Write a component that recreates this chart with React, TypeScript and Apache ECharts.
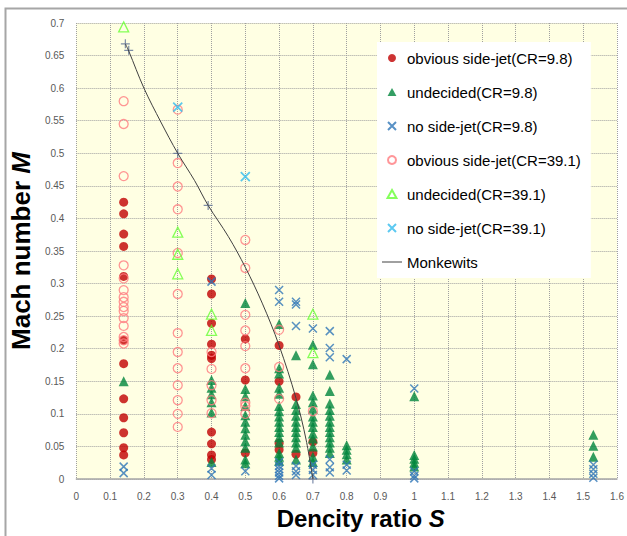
import React, { useEffect, useRef } from "react";
import * as echarts from "echarts";

// Density ratio S columns with Mach number M values, per series
const obvious98: [number, number[]][] = [
  [0.14, [0.425, 0.407, 0.376, 0.357, 0.311, 0.213, 0.177, 0.123, 0.094, 0.071, 0.048, 0.037]],
  [0.4, [0.307, 0.284, 0.239, 0.207, 0.19, 0.185, 0.072, 0.054, 0.037, 0.03]],
  [0.5, [0.215, 0.152, 0.04]],
  [0.6, [0.205, 0.15, 0.055, 0.045]],
  [0.65, [0.126, 0.038]],
  [0.7, [0.057, 0.04]],
];

const undecided98: [number, number[]][] = [
  [0.14, [0.15]],
  [0.4, [0.152, 0.14, 0.13, 0.118, 0.102, 0.026]],
  [0.5, [0.27, 0.138, 0.127, 0.112, 0.098, 0.088, 0.078, 0.068, 0.058, 0.048, 0.03, 0.024]],
  [0.6, [0.238, 0.17, 0.162, 0.14, 0.131, 0.112, 0.104, 0.096, 0.088, 0.08, 0.072, 0.064, 0.056, 0.04, 0.034, 0.028]],
  [0.65, [0.19, 0.115, 0.106, 0.097, 0.088, 0.08, 0.072, 0.064, 0.056, 0.048, 0.03]],
  [0.7, [0.206, 0.176, 0.128, 0.118, 0.108, 0.096, 0.088, 0.08, 0.07, 0.062, 0.05, 0.034, 0.026]],
  [0.75, [0.16, 0.135, 0.116, 0.106, 0.097, 0.088, 0.08, 0.072, 0.064, 0.056, 0.048, 0.04]],
  [0.8, [0.052, 0.045, 0.038, 0.03]],
  [1.0, [0.127, 0.037, 0.031, 0.025, 0.019]],
  [1.53, [0.068, 0.051, 0.034]],
];

const noJet98: [number, number[]][] = [
  [0.14, [0.019, 0.009]],
  [0.4, [0.303, 0.016, 0.006]],
  [0.5, [0.012]],
  [0.6, [0.29, 0.272, 0.026, 0.02, 0.015, 0.01, 0.005, 0.001]],
  [0.65, [0.272, 0.268, 0.235, 0.02, 0.012, 0.006]],
  [0.7, [0.231, 0.022, 0.014, 0.006]],
  [0.75, [0.227, 0.201, 0.187, 0.03, 0.018, 0.01]],
  [0.8, [0.184, 0.022, 0.013]],
  [1.0, [0.139, 0.012, 0.005, 0.001]],
  [1.53, [0.022, 0.015, 0.008, 0.002]],
];

const obvious391: [number, number[]][] = [
  [0.14, [0.58, 0.545, 0.465, 0.328, 0.308, 0.29, 0.279, 0.272, 0.264, 0.258, 0.247, 0.235, 0.218, 0.213, 0.208]],
  [0.3, [0.567, 0.485, 0.449, 0.414, 0.347, 0.284, 0.224, 0.195, 0.17, 0.144, 0.121, 0.1, 0.08]],
  [0.4, [0.195, 0.169, 0.144, 0.121, 0.101]],
  [0.5, [0.367, 0.324, 0.252, 0.228, 0.204, 0.17, 0.117, 0.112, 0.1]],
  [0.6, [0.229, 0.172, 0.123]],
  [0.7, [0.104]],
];

const undecided391: [number, number[]][] = [
  [0.14, [0.694]],
  [0.3, [0.379, 0.345, 0.315]],
  [0.4, [0.253, 0.228]],
  [0.7, [0.253, 0.194]],
];

const noJet391: [number, number[]][] = [
  [0.3, [0.571]],
  [0.5, [0.464]],
];

const monkewitsCurve: [number, number][] = [
  [0.145, 0.668], [0.155, 0.657], [0.2, 0.6], [0.25, 0.548], [0.3, 0.5], [0.35, 0.458],
  [0.39, 0.42], [0.45, 0.372], [0.5, 0.325], [0.55, 0.27], [0.6, 0.205], [0.65, 0.124],
  [0.68, 0.06], [0.7, 0.0],
];
const monkewitsMarks: [number, number][] = [
  [0.145, 0.668], [0.155, 0.658], [0.3, 0.5], [0.39, 0.42], [0.7, 0.0],
];

const names = [
  "obvious side-jet(CR=9.8)",
  "undecided(CR=9.8)",
  "no side-jet(CR=9.8)",
  "obvious side-jet(CR=39.1)",
  "undecided(CR=39.1)",
  "no side-jet(CR=39.1)",
  "Monkewits",
];

const expand = (cols: [number, number[]][]) => {
  const out: [number, number][] = [];
  cols.forEach(([s, ms]) => ms.forEach((m) => out.push([s, m])));
  return out;
};

const TRI = "path://M5,0L10,9L0,9Z";
const CROSS = "path://M0,0L10,10M10,0L0,10";
const PLUS = "path://M5,0L5,10M0,5L10,5";
const LINE_ICON = "path://M0,0L20,0L20,1L0,1Z";
const FONT = "Liberation Sans";

export default function App() {
  const ref = useRef<HTMLDivElement>(null);
  useEffect(() => {
    document.body.style.margin = "0";
    if (!ref.current) return;
    const chart = echarts.init(ref.current, undefined, { renderer: "svg" });
    const axisLabel = { color: "#595959", fontSize: 10, fontFamily: FONT };
    const split = { show: true, lineStyle: { type: "dotted", color: "#A0A0A0", width: 1 } };
    const nameRich = (size: number) => ({
      a: { fontSize: size, fontWeight: "bold", fontFamily: FONT, color: "#000" },
      b: { fontSize: size, fontWeight: "bold", fontStyle: "italic", fontFamily: FONT, color: "#000" },
    });
    chart.setOption({
      animation: false,
      backgroundColor: "#ffffff",
      graphic: [
        {
          type: "rect",
          shape: { x: 5.5, y: 8.5, width: 640, height: 560 },
          style: { fill: "none", stroke: "#A6A6A6", lineWidth: 2 },
          z: -1,
          silent: true,
        },
      ],
      grid: {
        left: 68, top: 23, right: 10, bottom: 57,
        show: true, backgroundColor: "#FFFFE3", borderWidth: 0,
      },
      xAxis: {
        type: "value", min: 0, max: 1.6, interval: 0.1,
        axisLine: { show: true, lineStyle: { color: "#A6A6A6", width: 1.5 } },
        axisTick: { show: false },
        axisLabel: { ...axisLabel, margin: 12 },
        splitLine: split,
        name: "{a|Dencity ratio }{b|S}",
        nameLocation: "middle",
        nameGap: 27,
        nameTextStyle: { rich: nameRich(24), padding: [0, 0, 0, 28] },
      },
      yAxis: {
        type: "value", min: 0, max: 0.7, interval: 0.05,
        axisLine: { show: false },
        axisTick: { show: false },
        axisLabel: { ...axisLabel, margin: 12 },
        splitLine: split,
        name: "{a|Mach number }{b|M}",
        nameLocation: "middle",
        nameRotate: 90,
        nameGap: 34,
        nameTextStyle: { rich: nameRich(26) },
      },
      legend: {
        orient: "vertical", left: 377, top: 42,
        backgroundColor: "#ffffff",
        padding: [8, 10, 8, 5],
        itemWidth: 20, itemHeight: 8, itemGap: 18,
        symbolKeepAspect: true,
        textStyle: { fontSize: 15, fontFamily: FONT, color: "#000", lineHeight: 16 },
        data: [
          { name: names[0], icon: "circle" },
          { name: names[1], icon: TRI },
          { name: names[2], icon: CROSS },
          { name: names[3], icon: "circle" },
          { name: names[4], icon: TRI },
          { name: names[5], icon: CROSS },
          { name: names[6], icon: LINE_ICON },
        ],
      },
      series: [
        {
          name: names[0], type: "scatter", data: expand(obvious98),
          symbol: "circle", symbolSize: 9,
          itemStyle: { color: "#C00000" },
        },
        {
          name: names[1], type: "scatter", data: expand(undecided98),
          symbol: TRI, symbolSize: 10,
          itemStyle: { color: "#00863C" },
        },
        {
          name: names[2], type: "scatter", data: expand(noJet98),
          symbol: CROSS, symbolSize: 8,
          itemStyle: { color: "#2E75B6", borderColor: "#2E75B6", borderWidth: 1.5 },
        },
        {
          name: names[3], type: "scatter", data: expand(obvious391),
          symbol: "circle", symbolSize: 9,
          itemStyle: { color: "rgba(0,0,0,0)", borderColor: "#FF7C80", borderWidth: 1.3 },
        },
        {
          name: names[4], type: "scatter", data: expand(undecided391),
          symbol: TRI, symbolSize: 10,
          itemStyle: { color: "rgba(0,0,0,0)", borderColor: "#66FF33", borderWidth: 1.3 },
        },
        {
          name: names[5], type: "scatter", data: expand(noJet391),
          symbol: CROSS, symbolSize: 9,
          itemStyle: { color: "#33BBEE", borderColor: "#33BBEE", borderWidth: 1.8 },
        },
        {
          name: names[6], type: "line", data: monkewitsCurve,
          symbol: "none", showSymbol: false, smooth: 0.35,
          lineStyle: { color: "#404040", width: 1 },
          itemStyle: { color: "#404040" },
        },
        {
          name: "Monkewits points", type: "scatter", data: monkewitsMarks,
          symbol: PLUS, symbolSize: 9,
          itemStyle: { color: "#5B6F95", borderColor: "#5B6F95", borderWidth: 1.2 },
        },
      ],
    });
    return () => chart.dispose();
  }, []);
  return <div ref={ref} style={{ width: 627, height: 536 }} />;
}
